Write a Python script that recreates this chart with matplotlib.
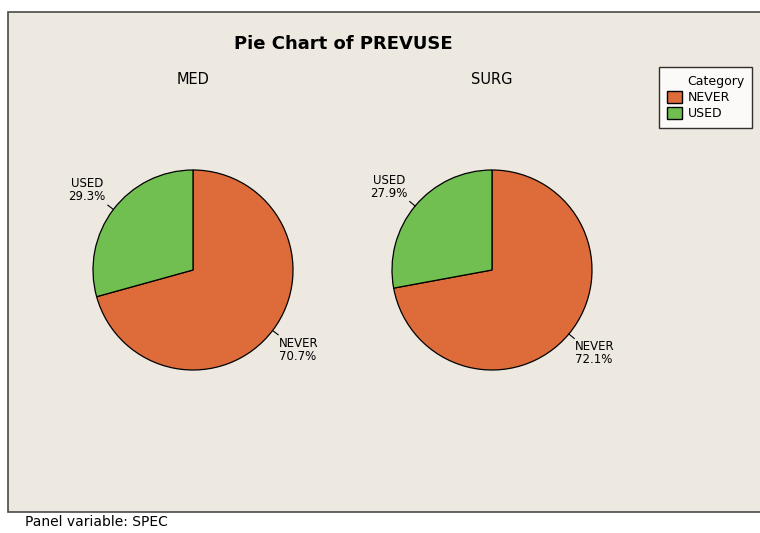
import numpy as np
import matplotlib
matplotlib.use('Agg')
import matplotlib.pyplot as plt
from matplotlib.patches import Rectangle, Patch

# data
panels = ['MED', 'SURG']
categories = ['NEVER', 'USED']
pct = {'MED': [70.7, 29.3], 'SURG': [72.1, 27.9]}
colors = ['#DE6C3A', '#70BF50']

W, H = 760, 533
fig = plt.figure(figsize=(W / 100, H / 100), dpi=100, facecolor='white')

# panel background
bg = Rectangle((8 / W, 1 - 512 / H), 1.0, (512 - 12) / H, transform=fig.transFigure,
               facecolor='#EDE8E0', edgecolor='#4a4a4a', linewidth=1.2, zorder=-10)
fig.patches.append(bg)

fig.text(343 / W, 1 - 44 / H, 'Pie Chart of PREVUSE', ha='center', va='center',
         fontsize=13, fontweight='bold', family='DejaVu Sans')

centers = {'MED': 193, 'SURG': 492}
cy = 270
half = 130
for name in panels:
    cx = centers[name]
    ax = fig.add_axes([(cx - half) / W, (H - cy - half) / H, 2 * half / W, 2 * half / H])
    vals = pct[name]
    wedges, _ = ax.pie(vals, colors=colors, startangle=90, counterclock=False, radius=1.0,
                       wedgeprops=dict(edgecolor='black', linewidth=0.9))
    ax.set_xlim(-1.3, 1.3)
    ax.set_ylim(-1.3, 1.3)
    ax.axis('off')
    for w, cat, v in zip(wedges, categories, vals):
        ang = np.deg2rad((w.theta1 + w.theta2) / 2)
        x0, y0 = np.cos(ang), np.sin(ang)
        x1, y1 = 1.07 * x0, 1.07 * y0
        ax.plot([x0, x1], [y0, y1], color='black', lw=0.8)
        if x0 > 0:
            ax.text(x1 + 0.01, y1 - 0.02, f'{cat}\n{v}%', ha='left', va='top',
                    fontsize=8.5, linespacing=1.0, multialignment='left')
        else:
            ax.text(x1 - 0.02, y1 + 0.02, f'{cat}\n{v}%', ha='right', va='bottom',
                    fontsize=8.5, linespacing=1.0, multialignment='center')
    fig.text(cx / W, 1 - 80 / H, name, ha='center', va='center', fontsize=10.5)

handles = [Patch(facecolor=c, edgecolor='black', label=l) for c, l in zip(colors, categories)]
leg = fig.legend(handles=handles, title='Category', loc='upper left', mode='expand',
                 bbox_to_anchor=(659 / W, 1 - 128 / H, 93 / W, 61 / H), borderaxespad=0,
                 fontsize=9, title_fontsize=9,
                 frameon=True, fancybox=False, edgecolor='black', facecolor='white',
                 handlelength=1.2, handleheight=1.1, handletextpad=0.5,
                 borderpad=0.6, labelspacing=0.25, alignment='right')
leg.get_frame().set_linewidth(1.0)

fig.text(25 / W, 1 - 522 / H, 'Panel variable: SPEC', ha='left', va='center', fontsize=10)

fig.savefig('out.png', dpi=100, facecolor='white')
